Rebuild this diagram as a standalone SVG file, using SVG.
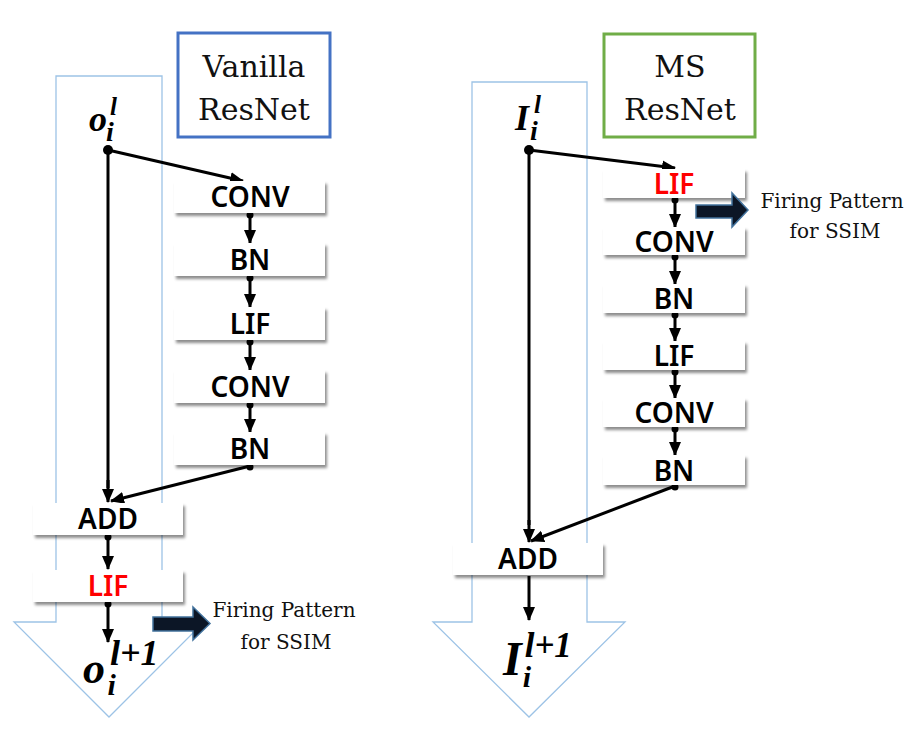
<svg xmlns="http://www.w3.org/2000/svg" width="911" height="731" viewBox="0 0 911 731">
<defs>
<style>
.outline{fill:none;stroke:#9DC3E6;stroke-width:1.3}
.box{fill:#fff;filter:url(#sh)}
.lbl{font-family:"Noto Sans","Open Sans",sans-serif;font-weight:600;font-size:28px;text-anchor:middle;fill:#000}
.red{fill:#FF0000}
.title{font-family:"DejaVu Serif",serif;font-size:30px;text-anchor:middle;fill:#111}
.fire{font-family:"DejaVu Serif",serif;font-size:20px;text-anchor:middle;fill:#111}
.math{font-family:"Liberation Serif",serif;font-weight:bold;font-style:italic;fill:#000}
.ln{stroke:#000;stroke-width:3;fill:none}
.ar{stroke:#000;stroke-width:3;fill:none;marker-end:url(#ah)}
.blk{fill:#0C1626;stroke:#41719C;stroke-width:1.5}
</style>
<filter id="sh" x="-10%" y="-30%" width="120%" height="170%">
<feDropShadow dx="2" dy="3" stdDeviation="1.8" flood-color="#000" flood-opacity="0.45"/>
</filter>
<marker id="ah" markerUnits="userSpaceOnUse" markerWidth="14" markerHeight="14" viewBox="0 0 14 14" refX="13" refY="7" orient="auto">
<path d="M0,1 L14,7 L0,13 Z" fill="#000"/>
</marker>
</defs>

<g id="outlines">
<path class="outline" d="M56,76 L162,76 L162,622 L204,622 L109,717 L14,622 L56,622 Z"/>
<path class="outline" d="M472,82 L587,82 L587,622 L625,622 L529,717 L433,622 L472,622 Z"/>
</g>

<g id="title-vanilla">
<rect x="178" y="33" width="152" height="104" fill="#fff" stroke="#4472C4" stroke-width="3"/>
<text class="title" x="254" y="77">Vanilla</text>
<text class="title" x="254" y="120">ResNet</text>
</g>
<g id="title-ms">
<rect x="604" y="34" width="151" height="103" fill="#fff" stroke="#70AD47" stroke-width="3"/>
<text class="title" x="680" y="77">MS</text>
<text class="title" x="680" y="120">ResNet</text>
</g>

<g id="connectors">
<line class="ln" x1="108" y1="150" x2="108" y2="488"/>
<line class="ar" x1="108" y1="480" x2="108" y2="502"/>
<line class="ar" x1="108" y1="150" x2="243" y2="181"/>
<line class="ar" x1="250" y1="213" x2="250" y2="243"/>
<line class="ar" x1="250" y1="276" x2="250" y2="307"/>
<line class="ar" x1="250" y1="340" x2="250" y2="370"/>
<line class="ar" x1="250" y1="403" x2="250" y2="432"/>
<line class="ar" x1="250" y1="466" x2="111" y2="501"/>
<line class="ar" x1="108" y1="536" x2="108" y2="569"/>
<line class="ar" x1="108" y1="603" x2="108" y2="642"/>
<circle cx="108" cy="150" r="5"/>
<circle cx="250" cy="215" r="3.5"/>
<circle cx="250" cy="278" r="3.5"/>
<circle cx="250" cy="342" r="3.5"/>
<circle cx="250" cy="405" r="3.5"/>
<circle cx="250" cy="467" r="3.5"/>
<circle cx="108" cy="537" r="3.5"/>
<circle cx="108" cy="604" r="3.5"/>

<line class="ln" x1="529" y1="150" x2="529" y2="525"/>
<line class="ar" x1="529" y1="520" x2="529" y2="542"/>
<line class="ar" x1="529" y1="150" x2="675" y2="168"/>
<line class="ar" x1="675" y1="198" x2="675" y2="227"/>
<line class="ar" x1="675" y1="255" x2="675" y2="284"/>
<line class="ar" x1="675" y1="313" x2="675" y2="341"/>
<line class="ar" x1="675" y1="370" x2="675" y2="398"/>
<line class="ar" x1="675" y1="427" x2="675" y2="455"/>
<line class="ar" x1="675" y1="486" x2="531" y2="541"/>
<line class="ar" x1="529" y1="576" x2="529" y2="620"/>
<circle cx="529" cy="150" r="5"/>
<circle cx="675" cy="200" r="3.5"/>
<circle cx="675" cy="257" r="3.5"/>
<circle cx="675" cy="315" r="3.5"/>
<circle cx="675" cy="372" r="3.5"/>
<circle cx="675" cy="429" r="3.5"/>
<circle cx="675" cy="487" r="3.5"/>
</g>

<g id="left-conv1"><rect class="box" x="174" y="181" width="151" height="32"/><text class="lbl" x="250" y="207">CONV</text></g>
<g id="left-bn1"><rect class="box" x="174" y="243" width="151" height="33"/><text class="lbl" x="250" y="270">BN</text></g>
<g id="left-lif1"><rect class="box" x="174" y="307" width="151" height="33"/><text class="lbl" x="250" y="334">LIF</text></g>
<g id="left-conv2"><rect class="box" x="174" y="370" width="151" height="33"/><text class="lbl" x="250" y="397">CONV</text></g>
<g id="left-bn2"><rect class="box" x="174" y="432" width="151" height="33"/><text class="lbl" x="250" y="459">BN</text></g>
<g id="left-add"><rect class="box" x="33" y="503" width="150" height="32"/><text class="lbl" x="108" y="529">ADD</text></g>
<g id="left-lif-out"><rect class="box" x="33" y="570" width="150" height="32"/><text class="lbl red" x="108" y="596">LIF</text></g>

<g id="right-lif1"><rect class="box" x="603" y="169" width="142" height="29"/><text class="lbl red" x="674" y="194">LIF</text></g>
<g id="right-conv1"><rect class="box" x="603" y="227" width="142" height="28"/><text class="lbl" x="674" y="252">CONV</text></g>
<g id="right-bn1"><rect class="box" x="603" y="284" width="142" height="29"/><text class="lbl" x="674" y="309">BN</text></g>
<g id="right-lif2"><rect class="box" x="603" y="341" width="142" height="29"/><text class="lbl" x="674" y="366">LIF</text></g>
<g id="right-conv2"><rect class="box" x="603" y="398" width="142" height="29"/><text class="lbl" x="674" y="423">CONV</text></g>
<g id="right-bn2"><rect class="box" x="603" y="455" width="142" height="30"/><text class="lbl" x="674" y="481">BN</text></g>
<g id="right-add"><rect class="box" x="453" y="543" width="150" height="32"/><text class="lbl" x="528" y="569">ADD</text></g>

<g id="left-fire">
<path class="blk" d="M153,617 L193,617 L193,607 L210,623.5 L193,640 L193,631 L153,631 Z"/>
<text class="fire" x="284" y="617">Firing Pattern</text>
<text class="fire" x="286" y="649">for SSIM</text>
</g>
<g id="right-fire">
<path class="blk" d="M696,205 L732,205 L732,193 L748,210 L732,227 L732,218 L696,218 Z"/>
<text class="fire" x="832" y="208">Firing Pattern</text>
<text class="fire" x="835" y="238">for SSIM</text>
</g>

<g id="math-left-in">
<text class="math" x="89" y="131" font-size="36">o<tspan dx="3" dy="-16" font-size="25">l</tspan><tspan dx="-11" dy="26" font-size="28">i</tspan></text>
</g>
<g id="math-left-out">
<text class="math" x="83" y="683" font-size="44">o<tspan dx="5" dy="-18" font-size="36">l+1</tspan><tspan dx="-51" dy="30" font-size="30">i</tspan></text>
</g>
<g id="math-right-in">
<text class="math" x="515" y="130" font-size="36">I<tspan dx="5" dy="-17" font-size="25">l</tspan><tspan dx="-11" dy="27" font-size="28">i</tspan></text>
</g>
<g id="math-right-out">
<text class="math" x="503" y="675" font-size="48">I<tspan dx="3" dy="-18" font-size="35">l+1</tspan><tspan dx="-49" dy="30" font-size="30">i</tspan></text>
</g>
</svg>
